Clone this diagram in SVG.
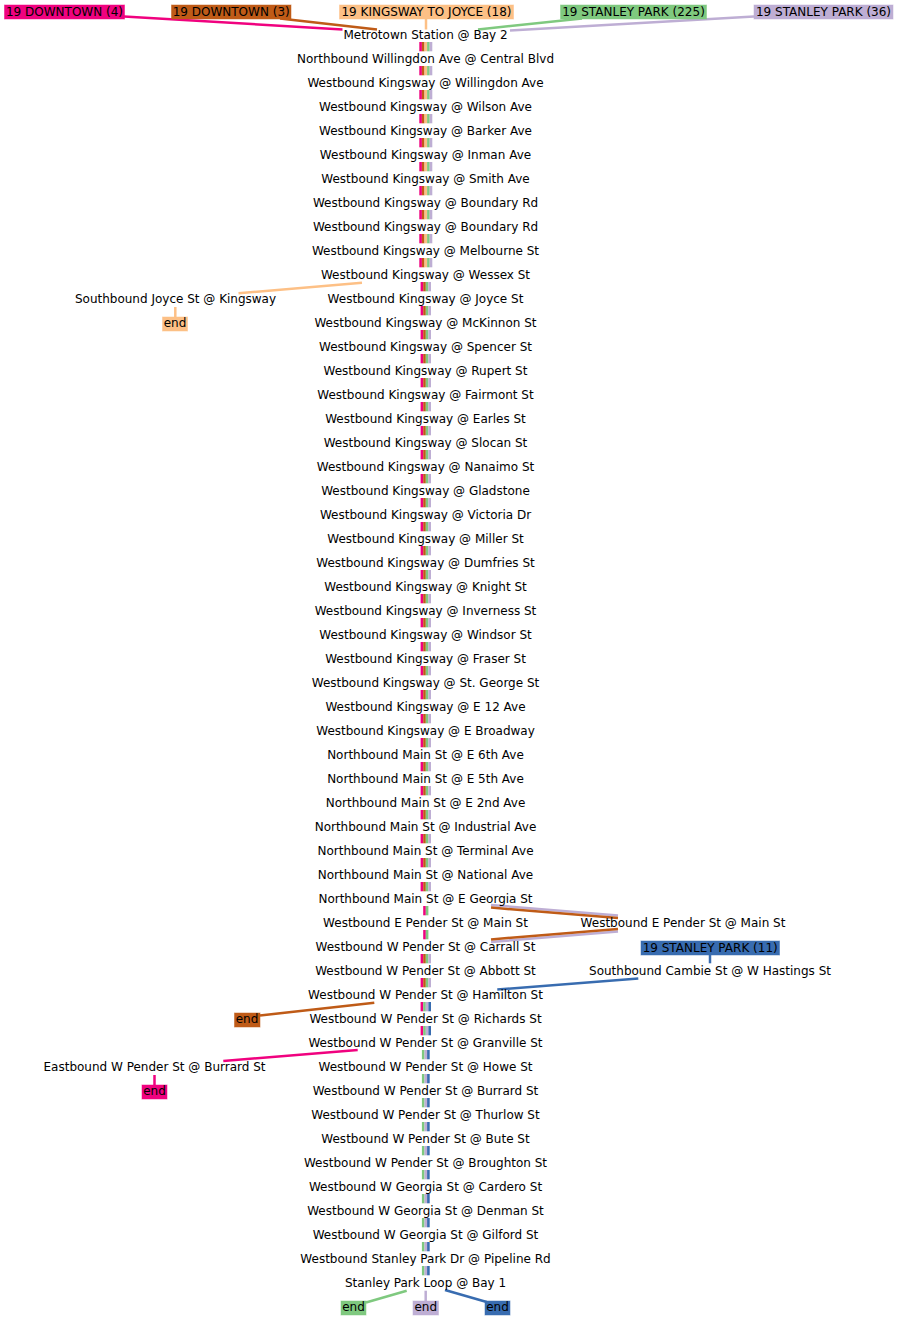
<svg xmlns="http://www.w3.org/2000/svg" xmlns:xlink="http://www.w3.org/1999/xlink" width="897" height="1320" viewBox="0 0 897 1320">
<style>
text{font-family:"DejaVu Sans","Liberation Sans",sans-serif;font-size:12px;fill:#000;text-anchor:middle}
.ln{fill:none;stroke-width:2.5;stroke-linecap:butt}
.pk{fill:#f0027f}.br{fill:#bf5b17}.or{fill:#fdc086}.gr{fill:#7fc97f}.pu{fill:#beaed4}.bl{fill:#386cb0}
.spk{stroke:#f0027f}.sbr{stroke:#bf5b17}.sor{stroke:#fdc086}.sgr{stroke:#7fc97f}.spu{stroke:#beaed4}.sbl{stroke:#386cb0}
.box{stroke-width:1;stroke-opacity:0.5}
</style>
<defs>
<g id="b5"><rect class="pk" x="419.3" width="2.6" height="9.3"/><rect class="br" x="421.9" width="2.6" height="9.3"/><rect class="or" x="424.5" width="2.6" height="9.3"/><rect class="gr" x="427.1" width="2.6" height="9.3"/><rect class="pu" x="429.7" width="2.6" height="9.3"/></g>
<g id="b4"><rect class="pk" x="420.6" width="2.6" height="9.3"/><rect class="br" x="423.2" width="2.6" height="9.3"/><rect class="gr" x="425.8" width="2.6" height="9.3"/><rect class="pu" x="428.4" width="2.6" height="9.3"/></g>
<g id="b2"><rect class="pk" x="423.2" width="2.6" height="9.3"/><rect class="gr" x="425.8" width="2.6" height="9.3"/></g>
<g id="b4b"><rect class="pk" x="420.6" width="2.6" height="9.3"/><rect class="gr" x="423.2" width="2.6" height="9.3"/><rect class="pu" x="425.8" width="2.6" height="9.3"/><rect class="bl" x="428.4" width="2.6" height="9.3"/></g>
<g id="b3"><rect class="gr" x="421.9" width="2.6" height="9.3"/><rect class="pu" x="424.5" width="2.6" height="9.3"/><rect class="bl" x="427.1" width="2.6" height="9.3"/></g>
</defs>
<rect width="897" height="1320" fill="#fff"/>
<g id="connectors">
<use href="#b5" y="42"/><use href="#b5" y="66"/><use href="#b5" y="90"/><use href="#b5" y="114"/><use href="#b5" y="138"/><use href="#b5" y="162"/><use href="#b5" y="186"/><use href="#b5" y="210"/><use href="#b5" y="234"/><use href="#b5" y="258"/>
<use href="#b4" y="282"/><use href="#b4" y="306"/><use href="#b4" y="330"/><use href="#b4" y="354"/><use href="#b4" y="378"/><use href="#b4" y="402"/><use href="#b4" y="426"/><use href="#b4" y="450"/><use href="#b4" y="474"/><use href="#b4" y="498"/><use href="#b4" y="522"/><use href="#b4" y="546"/><use href="#b4" y="570"/><use href="#b4" y="594"/><use href="#b4" y="618"/><use href="#b4" y="642"/><use href="#b4" y="666"/><use href="#b4" y="690"/><use href="#b4" y="714"/><use href="#b4" y="738"/><use href="#b4" y="762"/><use href="#b4" y="786"/><use href="#b4" y="810"/><use href="#b4" y="834"/><use href="#b4" y="858"/><use href="#b4" y="882"/>
<use href="#b2" y="906"/><use href="#b2" y="930"/>
<use href="#b4" y="954"/><use href="#b4" y="978"/>
<use href="#b4b" y="1002"/><use href="#b4b" y="1026"/>
<use href="#b3" y="1050"/><use href="#b3" y="1074"/><use href="#b3" y="1098"/><use href="#b3" y="1122"/><use href="#b3" y="1146"/><use href="#b3" y="1170"/><use href="#b3" y="1194"/><use href="#b3" y="1218"/><use href="#b3" y="1242"/><use href="#b3" y="1266"/>
<line class="ln spk" x1="124" y1="16.5" x2="342.5" y2="29.5"/>
<line class="ln sbr" x1="280" y1="18.5" x2="377" y2="29.5"/>
<line class="ln sor" x1="426" y1="18.5" x2="426" y2="29.5"/>
<line class="ln sgr" x1="582" y1="18.5" x2="478" y2="29.5"/>
<line class="ln spu" x1="754" y1="16.5" x2="510" y2="30.5"/>
<line class="ln sor" x1="362" y1="282.7" x2="238.5" y2="293.3"/>
<line class="ln sor" x1="175.3" y1="307" x2="175.3" y2="317.5"/>
<line class="ln spu" x1="491" y1="905" x2="618" y2="915.5" stroke-width="3"/>
<line class="ln sbr" x1="491" y1="907.6" x2="618" y2="918"/>
<line class="ln spu" x1="618" y1="931.5" x2="491" y2="942" stroke-width="3"/>
<line class="ln sbr" x1="618" y1="929" x2="491" y2="939.4"/>
<line class="ln sbl" x1="710" y1="955" x2="710" y2="963.3"/>
<line class="ln sbl" x1="638.3" y1="978.5" x2="497.3" y2="989.5"/>
<line class="ln sbr" x1="374.3" y1="1002.7" x2="260" y2="1015.5"/>
<line class="ln spk" x1="357.7" y1="1050" x2="223.3" y2="1061"/>
<line class="ln spk" x1="154.5" y1="1075" x2="154.5" y2="1085"/>
<line class="ln sgr" x1="406.7" y1="1290.7" x2="366" y2="1302.5"/>
<line class="ln spu" x1="425.7" y1="1290.7" x2="425.7" y2="1301"/>
<line class="ln sbl" x1="445" y1="1290" x2="486.7" y2="1302"/>
</g>
<g id="label-downtown-4"><rect class="pk box spk" x="4.5" y="5" width="120" height="14"/><text x="64.5" y="15.5">19 DOWNTOWN (4)</text></g>
<g id="label-downtown-3"><rect class="br box sbr" x="171.5" y="5" width="119.5" height="14"/><text x="231.2" y="15.5">19 DOWNTOWN (3)</text></g>
<g id="label-joyce-18"><rect class="or box sor" x="339.5" y="5" width="174" height="14"/><text x="426.5" y="15.5">19 KINGSWAY TO JOYCE (18)</text></g>
<g id="label-stanley-225"><rect class="gr box sgr" x="560.5" y="5" width="146" height="14"/><text x="633.5" y="15.5">19 STANLEY PARK (225)</text></g>
<g id="label-stanley-36"><rect class="pu box spu" x="754" y="5" width="139" height="14"/><text x="823.5" y="15.5">19 STANLEY PARK (36)</text></g>
<g id="label-stanley-11"><rect class="bl box sbl" x="641" y="941" width="138.5" height="14"/><text x="710.2" y="951.5">19 STANLEY PARK (11)</text></g>
<g id="stops">
<text x="425.5" y="39">Metrotown Station @ Bay 2</text>
<text x="425.5" y="63">Northbound Willingdon Ave @ Central Blvd</text>
<text x="425.5" y="87">Westbound Kingsway @ Willingdon Ave</text>
<text x="425.5" y="111">Westbound Kingsway @ Wilson Ave</text>
<text x="425.5" y="135">Westbound Kingsway @ Barker Ave</text>
<text x="425.5" y="159">Westbound Kingsway @ Inman Ave</text>
<text x="425.5" y="183">Westbound Kingsway @ Smith Ave</text>
<text x="425.5" y="207">Westbound Kingsway @ Boundary Rd</text>
<text x="425.5" y="231">Westbound Kingsway @ Boundary Rd</text>
<text x="425.5" y="255">Westbound Kingsway @ Melbourne St</text>
<text x="425.5" y="279">Westbound Kingsway @ Wessex St</text>
<text x="425.5" y="303">Westbound Kingsway @ Joyce St</text>
<text x="425.5" y="327">Westbound Kingsway @ McKinnon St</text>
<text x="425.5" y="351">Westbound Kingsway @ Spencer St</text>
<text x="425.5" y="375">Westbound Kingsway @ Rupert St</text>
<text x="425.5" y="399">Westbound Kingsway @ Fairmont St</text>
<text x="425.5" y="423">Westbound Kingsway @ Earles St</text>
<text x="425.5" y="447">Westbound Kingsway @ Slocan St</text>
<text x="425.5" y="471">Westbound Kingsway @ Nanaimo St</text>
<text x="425.5" y="495">Westbound Kingsway @ Gladstone</text>
<text x="425.5" y="519">Westbound Kingsway @ Victoria Dr</text>
<text x="425.5" y="543">Westbound Kingsway @ Miller St</text>
<text x="425.5" y="567">Westbound Kingsway @ Dumfries St</text>
<text x="425.5" y="591">Westbound Kingsway @ Knight St</text>
<text x="425.5" y="615">Westbound Kingsway @ Inverness St</text>
<text x="425.5" y="639">Westbound Kingsway @ Windsor St</text>
<text x="425.5" y="663">Westbound Kingsway @ Fraser St</text>
<text x="425.5" y="687">Westbound Kingsway @ St. George St</text>
<text x="425.5" y="711">Westbound Kingsway @ E 12 Ave</text>
<text x="425.5" y="735">Westbound Kingsway @ E Broadway</text>
<text x="425.5" y="759">Northbound Main St @ E 6th Ave</text>
<text x="425.5" y="783">Northbound Main St @ E 5th Ave</text>
<text x="425.5" y="807">Northbound Main St @ E 2nd Ave</text>
<text x="425.5" y="831">Northbound Main St @ Industrial Ave</text>
<text x="425.5" y="855">Northbound Main St @ Terminal Ave</text>
<text x="425.5" y="879">Northbound Main St @ National Ave</text>
<text x="425.5" y="903">Northbound Main St @ E Georgia St</text>
<text x="425.5" y="927">Westbound E Pender St @ Main St</text>
<text x="425.5" y="951">Westbound W Pender St @ Carrall St</text>
<text x="425.5" y="975">Westbound W Pender St @ Abbott St</text>
<text x="425.5" y="999">Westbound W Pender St @ Hamilton St</text>
<text x="425.5" y="1023">Westbound W Pender St @ Richards St</text>
<text x="425.5" y="1047">Westbound W Pender St @ Granville St</text>
<text x="425.5" y="1071">Westbound W Pender St @ Howe St</text>
<text x="425.5" y="1095">Westbound W Pender St @ Burrard St</text>
<text x="425.5" y="1119">Westbound W Pender St @ Thurlow St</text>
<text x="425.5" y="1143">Westbound W Pender St @ Bute St</text>
<text x="425.5" y="1167">Westbound W Pender St @ Broughton St</text>
<text x="425.5" y="1191">Westbound W Georgia St @ Cardero St</text>
<text x="425.5" y="1215">Westbound W Georgia St @ Denman St</text>
<text x="425.5" y="1239">Westbound W Georgia St @ Gilford St</text>
<text x="425.5" y="1263">Westbound Stanley Park Dr @ Pipeline Rd</text>
<text x="425.5" y="1287">Stanley Park Loop @ Bay 1</text>
</g>
<g id="stop-joyce"><text x="175.5" y="303">Southbound Joyce St @ Kingsway</text></g>
<g id="end-joyce"><rect class="or box sor" x="162.5" y="317" width="25" height="14"/><text x="175" y="327">end</text></g>
<g id="stop-epender-main"><text x="683" y="927">Westbound E Pender St @ Main St</text></g>
<g id="stop-cambie"><text x="710" y="975">Southbound Cambie St @ W Hastings St</text></g>
<g id="end-downtown-3"><rect class="br box sbr" x="234.5" y="1013" width="25.5" height="14"/><text x="247" y="1023">end</text></g>
<g id="stop-eb-pender-burrard"><text x="154.5" y="1071">Eastbound W Pender St @ Burrard St</text></g>
<g id="end-downtown-4"><rect class="pk box spk" x="142" y="1085" width="25" height="14"/><text x="154.5" y="1095">end</text></g>
<g id="end-225"><rect class="gr box sgr" x="341" y="1301" width="25" height="14"/><text x="353.5" y="1311">end</text></g>
<g id="end-36"><rect class="pu box spu" x="413" y="1301" width="25.5" height="14"/><text x="425.7" y="1311">end</text></g>
<g id="end-11"><rect class="bl box sbl" x="485" y="1301" width="25" height="14"/><text x="497.5" y="1311">end</text></g>
</svg>
